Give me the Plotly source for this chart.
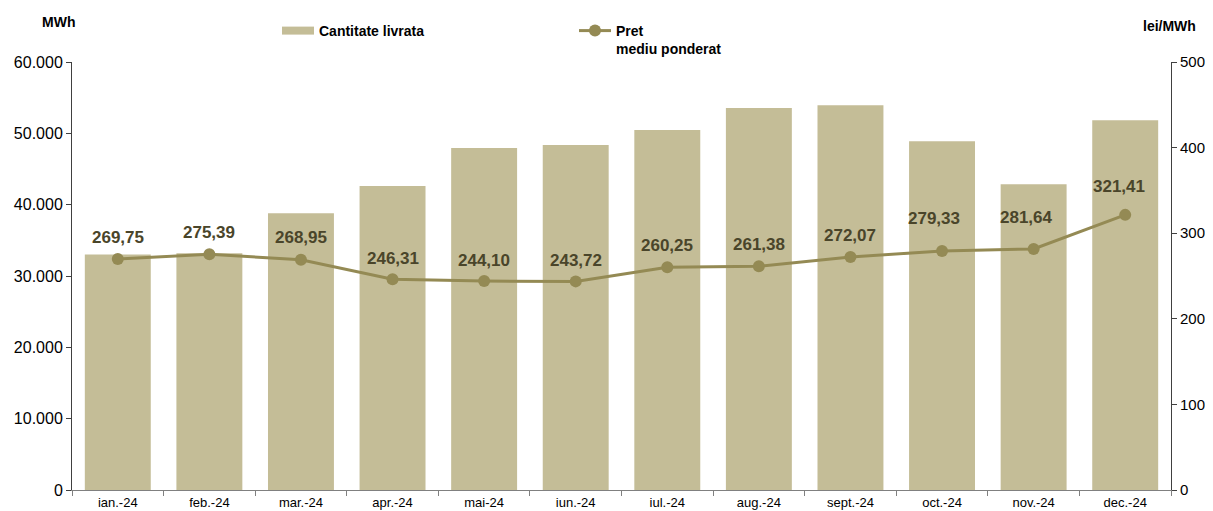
import plotly.graph_objects as go

months = ["ian.-24", "feb.-24", "mar.-24", "apr.-24", "mai-24", "iun.-24",
          "iul.-24", "aug.-24", "sept.-24", "oct.-24", "nov.-24", "dec.-24"]
quantity_mwh = [33000, 33200, 38800, 42600, 47950, 48350,
                50450, 53550, 53950, 48900, 42850, 51850]
price_lei = [269.75, 275.39, 268.95, 246.31, 244.10, 243.72,
             260.25, 261.38, 272.07, 279.33, 281.64, 321.41]

# label placement offsets (pixels) as in the reference
label_dy = [22, 22, 22, 21, 21, 21, 22, 22, 22, 32, 31, 28]
label_dx = [0, 0, 0, 0, 0, 0, 0, 0, 0, -8, -7, -6]

FONT = "Liberation Sans, Arial, sans-serif"
BAR_C = "#C4BD97"
LINE_C = "#948A54"
LABEL_C = "#4A452A"

# the page body has an 8px margin; work in page pixels and subtract it
OFF = 8
W, H = 1213 - OFF, 511 - OFF
L, R, T, B = 72 - OFF, 1213 - 1171, 62 - OFF, 21
PW, PH = W - L - R, H - T - B

fig = go.Figure()
fig.add_trace(go.Bar(
    x=months, y=quantity_mwh, name="Cantitate livrata",
    marker=dict(color=BAR_C, line=dict(width=0)),
    yaxis="y", showlegend=False,
))
# legend entry styled as a wide swatch
fig.add_trace(go.Scatter(
    x=[None], y=[None], name="Cantitate livrata", mode="lines",
    line=dict(color=BAR_C, width=8), yaxis="y",
))
fig.add_trace(go.Scatter(
    x=months, y=price_lei, name="Pret<br>mediu ponderat",
    mode="lines+markers",
    line=dict(color=LINE_C, width=3),
    marker=dict(color=LINE_C, size=12),
    yaxis="y2", cliponaxis=False,
))

annotations = []
for m, p, dy, dx in zip(months, price_lei, label_dy, label_dx):
    annotations.append(dict(
        x=m, y=p, xref="x", yref="y2", text=f"{p:.2f}".replace(".", ","),
        showarrow=False, xanchor="center", yanchor="middle",
        yshift=dy, xshift=dx,
        font=dict(family=FONT, size=17, color=LABEL_C, weight="bold"),
    ))
annotations += [
    dict(text="MWh", x=(58 - 72) / PW, y=(490 - 22) / PH, xref="paper", yref="paper",
         xanchor="center", yanchor="middle", showarrow=False,
         font=dict(family=FONT, size=14, color="black", weight="bold")),
    dict(text="lei/MWh", x=(1169 - 72) / PW, y=(490 - 26) / PH, xref="paper", yref="paper",
         xanchor="center", yanchor="middle", showarrow=False,
         font=dict(family=FONT, size=14, color="black", weight="bold")),
]

fig.update_layout(
    width=W, height=H,
    margin=dict(l=L, r=R, t=T, b=B, autoexpand=False),
    paper_bgcolor="white", plot_bgcolor="white",
    separators=",.",
    bargap=0.28,
    font=dict(family=FONT, size=14, color="black"),
    showlegend=True,
    legend=dict(orientation="h", x=(277 - OFF) / W, y=1 - (15 - OFF) / H,
                xanchor="left", yanchor="top",
                xref="container", yref="container",
                font=dict(family=FONT, size=14, color="black", weight="bold"),
                entrywidth=250, entrywidthmode="pixels",
                bgcolor="rgba(0,0,0,0)", valign="top",
                tracegroupgap=0, itemwidth=32),
    xaxis=dict(
        type="category", range=[-0.5, len(months) - 0.5],
        showline=True, linecolor="#808080", linewidth=1,
        ticks="outside", tickson="boundaries", ticklen=5, tickcolor="#808080",
        tickfont=dict(family=FONT, size=13, color="black"),
        showgrid=False, zeroline=False, automargin=False,
    ),
    yaxis=dict(
        range=[0, 60000], dtick=10000, tickformat=",d",
        showline=True, linecolor="#404040", linewidth=1,
        ticks="outside", ticklen=5, tickcolor="#404040",
        tickfont=dict(family=FONT, size=16, color="black"),
        showgrid=False, zeroline=False, automargin=False,
    ),
    yaxis2=dict(
        range=[0, 500], dtick=100, overlaying="y", side="right",
        showline=True, linecolor="#404040", linewidth=1,
        ticks="outside", ticklen=5, tickcolor="#404040",
        tickfont=dict(family=FONT, size=15, color="black"),
        showgrid=False, zeroline=False, automargin=False,
    ),
    annotations=annotations,
)

fig.write_html("out.html")
